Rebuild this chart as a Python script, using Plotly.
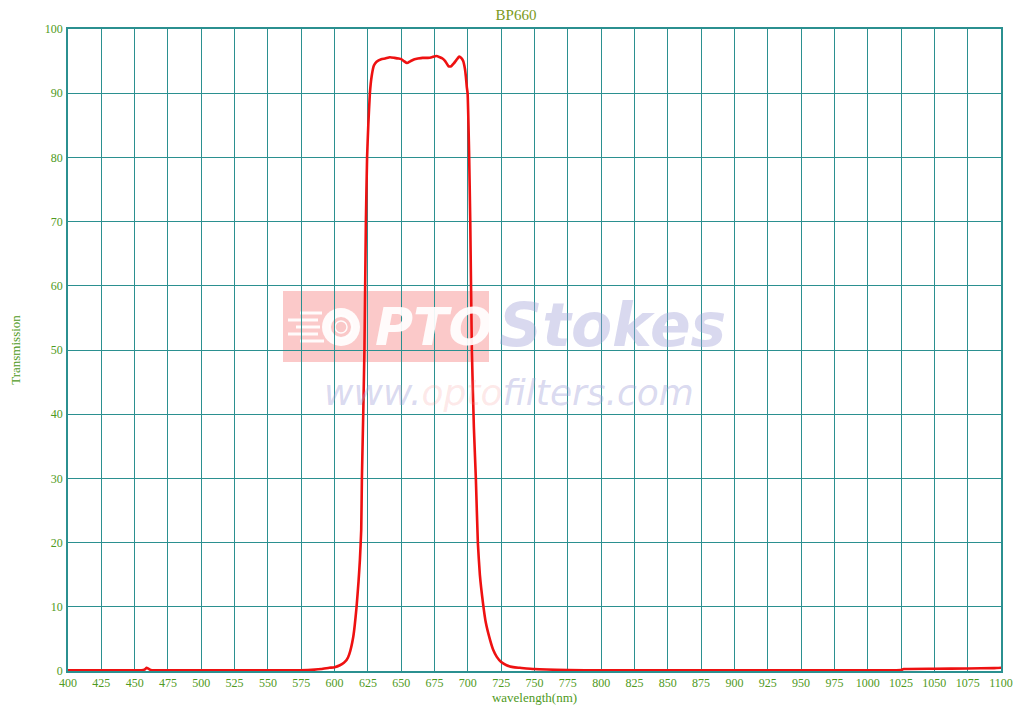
import plotly.graph_objects as go

# ---- data ----
wavelength = [400, 425, 450, 455, 458, 459, 460, 462, 465, 500, 550, 580, 590, 596, 600,
              604, 607, 609, 611, 614, 616.5, 618, 619, 620, 620.5, 621.5, 622.4, 623.5,
              624.4, 625.3, 626.5, 627.8, 629.5, 631.5, 635, 638, 641.5, 645, 648, 650,
              652, 654.3, 657, 660, 662.5, 666, 670, 673, 676.3, 679, 681, 683, 685.5,
              687.5, 689.3, 691.5, 693.5, 695, 696.5, 697.8, 698.5, 699.2, 699.8, 700.9,
              701.8, 703, 704.5, 706, 707.5, 709, 711.4, 713.5, 716.7, 719, 721.7, 725,
              729, 734, 739, 750, 775, 800, 900, 1000, 1025, 1027, 1050, 1075, 1095, 1100]
transmission = [0.1, 0.1, 0.1, 0.1, 0.3, 0.5, 0.4, 0.15, 0.1, 0.1, 0.1, 0.15, 0.3, 0.5, 0.6,
                0.9, 1.3, 1.7, 2.6, 5.3, 10.0, 14.0, 17.3, 22.0, 30.0, 40.0, 50.0, 70.0,
                80.0, 85.0, 90.0, 92.6, 94.3, 94.9, 95.3, 95.4, 95.6, 95.5, 95.4, 95.3,
                95.0, 94.7, 95.0, 95.3, 95.4, 95.5, 95.5, 95.6, 95.8, 95.6, 95.4, 95.0, 94.2,
                94.2, 94.6, 95.2, 95.7, 95.5, 95.0, 93.8, 92.6, 91.0, 90.0, 81.0,
                70.0, 50.0, 38.0, 30.0, 20.0, 15.0, 10.5, 7.5, 4.8, 3.3, 2.2, 1.4,
                0.9, 0.6, 0.5, 0.3, 0.15, 0.1, 0.1, 0.1, 0.15, 0.3, 0.35, 0.4, 0.45, 0.5]

x_ticks = list(range(400, 1101, 25))
y_ticks = list(range(0, 101, 10))

GRID = "#2b9090"
LABEL = "#4f9a22"
TITLE = "#7a9a1a"
FONT = "Liberation Serif"

# plot-area pixel geometry (for placing the watermark in paper coords)
PX0, PX1, PY0, PY1 = 68, 1001, 29, 671


def px(x):
    return (x - PX0) / (PX1 - PX0)


def py(y):
    return (PY1 - y) / (PY1 - PY0)


fig = go.Figure()
fig.add_trace(go.Scatter(
    x=wavelength, y=transmission, mode="lines",
    line=dict(color="#ee1111", width=2.6, shape="spline", smoothing=0.4),
    showlegend=False, hoverinfo="x+y",
))

# ---- watermark ----
WHITE = "rgba(255,255,255,0.92)"
fig.add_shape(type="rect", xref="paper", yref="paper",
              x0=px(283), x1=px(489), y0=py(362), y1=py(291), layer="below",
              fillcolor="rgba(245,120,120,0.40)", line=dict(width=0))
# lens circle
fig.add_shape(type="circle", xref="paper", yref="paper",
              x0=px(322), x1=px(360), y0=py(346), y1=py(308), layer="below",
              fillcolor=WHITE, line=dict(width=0))
fig.add_shape(type="circle", xref="paper", yref="paper",
              x0=px(330), x1=px(352), y0=py(338), y1=py(316), layer="below",
              fillcolor="rgba(250,200,200,1)", line=dict(color=WHITE, width=2))
fig.add_shape(type="circle", xref="paper", yref="paper",
              x0=px(335), x1=px(347), y0=py(333), y1=py(321), layer="below",
              fillcolor="rgba(250,200,200,1)", line=dict(color=WHITE, width=1.5))
# speed lines
for (xa, xb, yy) in [(300, 322, 313), (288, 318, 320), (296, 320, 327), (288, 318, 334), (300, 324, 341)]:
    fig.add_shape(type="line", xref="paper", yref="paper",
                  x0=px(xa), x1=px(xb), y0=py(yy), y1=py(yy), layer="below",
                  line=dict(color=WHITE, width=3))
fig.add_annotation(xref="paper", yref="paper", x=px(434), y=py(327), xanchor="center",
                   yanchor="middle", showarrow=False,
                   text="<b><i>PTO</i></b>",
                   font=dict(family="DejaVu Sans", size=52, color=WHITE))
fig.add_annotation(xref="paper", yref="paper", x=px(497), y=py(325), xanchor="left",
                   yanchor="middle", showarrow=False,
                   text="<b><i>Stokes</i></b>",
                   font=dict(family="DejaVu Sans", size=60, color="rgba(160,160,215,0.40)"))
fig.add_annotation(xref="paper", yref="paper", x=px(322), y=py(392), xanchor="left",
                   yanchor="middle", showarrow=False,
                   text="<i>www.<span style='color:rgba(245,140,140,0.5)'>opto</span>filters.com</i>",
                   font=dict(family="DejaVu Sans", size=36, color="rgba(160,160,215,0.40)"))

fig.update_layout(
    width=1016, height=700,
    margin=dict(l=60, r=23, t=21, b=37),
    paper_bgcolor="white", plot_bgcolor="white",
    title=dict(text="BP660", x=0.5, xanchor="center", y=0.991, yanchor="middle",
               font=dict(family=FONT, size=15, color=TITLE)),
    xaxis=dict(
        range=[400, 1100], tickmode="array", tickvals=x_ticks,
        ticktext=[str(v) for v in x_ticks], automargin=False,
        showgrid=True, gridcolor=GRID, gridwidth=1,
        showline=True, linecolor=GRID, linewidth=1.5, mirror=True,
        zeroline=False, ticks="", ticklen=0, ticklabelstandoff=0,
        tickfont=dict(family=FONT, size=12, color=LABEL),
        title=dict(text="wavelength(nm)", standoff=3,
                   font=dict(family=FONT, size=13, color=LABEL)),
    ),
    yaxis=dict(
        range=[0, 100], tickmode="array", tickvals=y_ticks,
        ticktext=[str(v) for v in y_ticks], automargin=False,
        showgrid=True, gridcolor=GRID, gridwidth=1,
        showline=True, linecolor=GRID, linewidth=1.5, mirror=True,
        zeroline=False, ticks="", ticklen=0, ticklabelstandoff=1,
        tickfont=dict(family=FONT, size=12, color=LABEL),
        title=dict(text="Transmission", standoff=28,
                   font=dict(family=FONT, size=13, color=LABEL)),
    ),
)

fig.write_html("out.html")
